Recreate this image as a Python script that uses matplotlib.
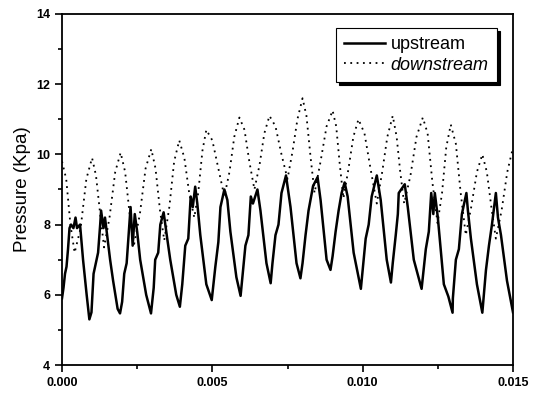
import matplotlib
matplotlib.use("Agg")
import matplotlib.pyplot as plt
from matplotlib.ticker import MultipleLocator, FormatStrFormatter

plt.rcParams['font.family'] = ['Liberation Sans', 'DejaVu Sans']

# upstream pressure (time s, pressure kPa)
up_t = [0.0, 0.00005, 0.0001, 0.00015, 0.0002, 0.00025, 0.0003, 0.00038, 0.00045, 0.0005, 0.0006,
        0.0007, 0.00082, 0.00091, 0.00098, 0.00105, 0.00115, 0.0012, 0.00127, 0.0013, 0.00138, 0.00143,
        0.0015, 0.0016, 0.0017, 0.00185, 0.00193, 0.002, 0.00207, 0.00215, 0.0022, 0.00228, 0.00235,
        0.00242, 0.0025, 0.0026, 0.0028, 0.00296, 0.00305, 0.0031, 0.0032, 0.00327, 0.00338, 0.0035,
        0.0036, 0.0038, 0.00392, 0.004, 0.0041, 0.0042, 0.00428, 0.00435, 0.00443, 0.0045, 0.0046,
        0.0048, 0.00498, 0.0051, 0.0052, 0.00527, 0.0054, 0.0055, 0.0056, 0.0058, 0.00594, 0.006,
        0.0061, 0.0062, 0.00628, 0.00635, 0.0065, 0.0066, 0.0068, 0.00694, 0.007, 0.0071, 0.0072,
        0.0073, 0.00745, 0.0076, 0.0078, 0.00793, 0.008, 0.0081, 0.0082, 0.00835, 0.0085, 0.0086,
        0.0088, 0.00893, 0.009, 0.0091, 0.0092, 0.0093, 0.0094, 0.0095, 0.0097, 0.00994, 0.01,
        0.0101, 0.0102, 0.0103, 0.01047, 0.0106, 0.0108, 0.01094, 0.011, 0.0111, 0.01117, 0.0112,
        0.0114, 0.0115, 0.0117, 0.01196, 0.012, 0.0121, 0.0122, 0.01228, 0.01235, 0.0124, 0.0125,
        0.0127, 0.01285, 0.01299, 0.0130, 0.0131, 0.0132, 0.0133, 0.01345, 0.0135, 0.0136, 0.0138,
        0.01398, 0.0141, 0.0142, 0.0143, 0.01443, 0.0145, 0.0146, 0.0148, 0.0150]
up_p = [5.9, 6.2, 6.6, 6.8, 7.3, 7.9, 8.0, 7.9, 8.2, 7.9, 8.0,
        7.0, 6.0, 5.3, 5.5, 6.6, 7.0, 7.2, 8.0, 8.4, 7.9, 8.2,
        7.7, 7.0, 6.4, 5.6, 5.47, 5.8, 6.6, 6.9, 7.5, 8.5, 7.4,
        8.3, 7.8, 7.0, 6.0, 5.47, 6.2, 7.0, 7.2, 8.0, 8.35, 7.6,
        7.0, 6.0, 5.66, 6.3, 7.4, 7.6, 8.8, 8.5, 9.08, 8.6, 7.7,
        6.3, 5.85, 6.8, 7.5, 8.5, 9.0, 8.7, 7.8, 6.5, 5.97, 6.5,
        7.4, 7.7, 8.8, 8.6, 9.0, 8.4, 6.9, 6.33, 6.9, 7.7, 8.0,
        8.9, 9.4, 8.5, 6.9, 6.47, 6.9, 7.7, 8.4, 9.1, 9.35, 8.7,
        7.0, 6.71, 7.1, 7.8, 8.4, 8.9, 9.2, 8.8, 7.2, 6.17, 6.7,
        7.6, 8.0, 8.8, 9.4, 8.7, 7.0, 6.35, 6.9, 7.7, 8.3, 8.9,
        9.15, 8.5, 7.0, 6.17, 6.5, 7.3, 7.8, 8.9, 8.3, 8.9, 8.2,
        6.3, 5.95, 5.49, 5.9, 7.0, 7.3, 8.3, 8.9, 8.4, 7.6, 6.3,
        5.49, 6.7, 7.4, 8.0, 8.9, 8.2, 7.7, 6.4, 5.5]

# downstream pressure
down_t = [0.0, 0.00014, 0.00028, 0.00042, 0.00062, 0.00081, 0.001, 0.00113, 0.00127, 0.0014,
          0.00158, 0.00177, 0.00195, 0.0021, 0.00225, 0.0024, 0.00259, 0.00278, 0.00297, 0.00311,
          0.00326, 0.0034, 0.00357, 0.00373, 0.0039, 0.00407, 0.00423, 0.0044, 0.00453, 0.00467,
          0.0048, 0.005, 0.0052, 0.0054, 0.00557, 0.00573, 0.0059, 0.00607, 0.00623, 0.0064,
          0.00657, 0.00673, 0.0069, 0.0071, 0.0073, 0.0075, 0.00767, 0.00783, 0.008, 0.00813,
          0.00827, 0.0084, 0.0086, 0.0088, 0.009, 0.00912, 0.00924, 0.00936, 0.00953, 0.00969,
          0.00986, 0.01006, 0.01026, 0.01047, 0.01065, 0.01082, 0.011, 0.01113, 0.01125, 0.01138,
          0.01159, 0.01179, 0.012, 0.01216, 0.01232, 0.01249, 0.01264, 0.01278, 0.01293, 0.0131,
          0.01326, 0.01343, 0.01361, 0.0138, 0.01398, 0.01413, 0.01428, 0.01443, 0.01462, 0.01481,
          0.0150]
down_p = [9.8, 9.3, 8.0, 7.2, 7.9, 9.3, 9.9, 9.4, 8.3, 7.35,
          8.2, 9.5, 10.05, 9.5, 8.3, 7.45, 8.3, 9.6, 10.15, 9.6,
          8.4, 7.55, 8.5, 9.8, 10.4, 9.9, 8.9, 8.2, 8.9, 10.1,
          10.7, 10.4, 9.6, 8.8, 9.5, 10.5, 11.05, 10.7, 9.8, 9.0,
          9.7, 10.6, 11.1, 10.8, 10.0, 9.3, 10.1, 11.0, 11.6, 11.1,
          9.9, 8.9, 9.8, 10.8, 11.25, 10.8, 9.7, 8.75, 9.6, 10.5,
          11.0, 10.6, 9.6, 8.6, 9.5, 10.5, 11.1, 10.5, 9.5, 8.6,
          9.4, 10.5, 11.05, 10.6, 9.2, 8.04, 8.9, 10.2, 10.85, 10.3,
          8.9, 7.7, 8.5, 9.5, 10.0, 9.5, 8.5, 7.6, 8.4, 9.5,
          10.2]

fig = plt.figure(figsize=(5.36, 3.94), dpi=100)
ax = fig.add_axes([62/536, 29/394, 451/536, 351/394])

ax.plot(up_t, up_p, color='black', linewidth=1.8, label='upstream')
ax.plot(down_t, down_p, color='black', linewidth=1.3, linestyle=(0, (1, 2.5)), label='downstream')

ax.set_xlim(0, 0.015)
ax.set_ylim(4, 14)
ax.set_ylabel('Pressure (Kpa)', fontsize=13.5)
ax.xaxis.set_major_locator(MultipleLocator(0.005))
ax.xaxis.set_minor_locator(MultipleLocator(0.0025))
ax.xaxis.set_major_formatter(FormatStrFormatter('%.3f'))
ax.yaxis.set_major_locator(MultipleLocator(2))
ax.yaxis.set_minor_locator(MultipleLocator(1))
ax.tick_params(which='both', direction='out', top=False, right=False, width=1.2, labelsize=9)
ax.tick_params(which='major', length=5)
ax.tick_params(which='minor', length=3)
for lab in ax.get_xticklabels() + ax.get_yticklabels():
    lab.set_fontweight('bold')
for s in ax.spines.values():
    s.set_linewidth(1.3)

leg = ax.legend(loc='upper right', bbox_to_anchor=(0.9645, 0.96), borderaxespad=0,
                fancybox=False, edgecolor='black', fontsize=13, handlelength=2.3,
                labelspacing=0.2, borderpad=0.45, handletextpad=0.3,
                shadow={'color': 'black', 'alpha': 1})
leg.get_frame().set_linewidth(0.8)
leg.get_texts()[1].set_fontstyle('italic')

fig.savefig('out.png', dpi=100)
